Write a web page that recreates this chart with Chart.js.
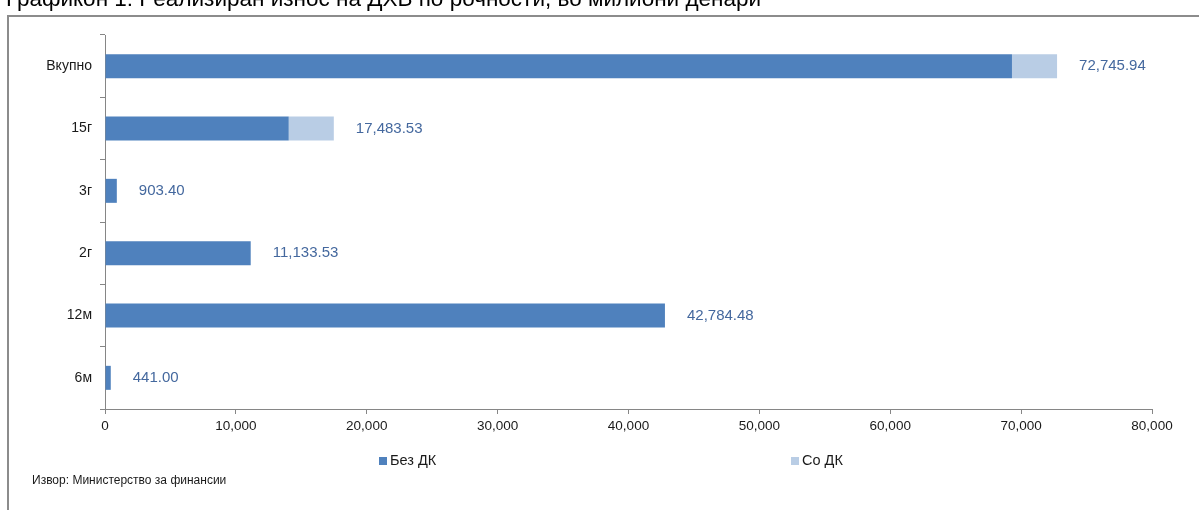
<!DOCTYPE html>
<html>
<head>
<meta charset="utf-8">
<script src="https://cdn.jsdelivr.net/npm/chart.js@4.4.1/dist/chart.umd.min.js"></script>
<style>
  html, body { margin: 0; padding: 0; background: #fff; }
  canvas { display: block; }
</style>
</head>
<body>
<canvas id="rocnost" width="1199" height="510"></canvas>
<script>
// Рочности (од горе надолу) и износи во милиони денари
const rocnosti = ['Вкупно', '15г', '3г', '2г', '12м', '6м'];
const bezDK = [69300.00, 14037.59, 903.40, 11133.53, 42784.48, 441.00];
const soDK = [3445.94, 3445.94, 0, 0, 0, 0];
const xTicks = [0, 10000, 20000, 30000, 40000, 50000, 60000, 70000, 80000];

const naslov = 'Графикон 1: Реализиран износ на ДХВ по рочности, во милиони денари';
const izvor = 'Извор: Министерство за финансии';

const bojaBez = '#4f81bd';
const bojaSo = '#b9cde5';
const bojaOska = '#868686';
const font = "'Liberation Sans', Arial, sans-serif";

function formatBroj(v, dec) {
  return v.toLocaleString('en-US', { minimumFractionDigits: dec, maximumFractionDigits: dec });
}

//------------------------- Рамка, наслов, легенда и извор -------------------------
const ramkaPlugin = {
  id: 'ramka',
  afterDraw(chart) {
    const ctx = chart.ctx;
    ctx.save();
    ctx.strokeStyle = '#8c8c8c';
    ctx.lineWidth = 2;
    ctx.beginPath();
    ctx.moveTo(8, 510);
    ctx.lineTo(8, 16);
    ctx.lineTo(1199, 16);
    ctx.stroke();

    ctx.fillStyle = '#000';
    ctx.font = '22.5px ' + font;
    ctx.textBaseline = 'alphabetic';
    ctx.textAlign = 'left';
    ctx.fillText(naslov, 6, 6);

    // легенда
    ctx.font = '14.5px ' + font;
    ctx.textBaseline = 'middle';
    ctx.fillStyle = bojaBez;
    ctx.fillRect(379, 457, 8, 8);
    ctx.fillStyle = '#1a1a1a';
    ctx.fillText('Без ДК', 390, 461);
    ctx.fillStyle = bojaSo;
    ctx.fillRect(791, 457, 8, 8);
    ctx.fillStyle = '#1a1a1a';
    ctx.fillText('Со ДК', 802, 461);

    ctx.font = '12px ' + font;
    ctx.fillText(izvor, 32, 481);
    ctx.restore();
  }
};

//------------------------- Вкупни износи до крајот на столбовите -------------------------
const vrednostiPlugin = {
  id: 'vrednosti',
  afterDatasetsDraw(chart) {
    const ctx = chart.ctx;
    const xs = chart.scales.x;
    const ys = chart.scales.y;
    ctx.save();
    ctx.font = '15px ' + font;
    ctx.fillStyle = '#44689e';
    ctx.textAlign = 'left';
    ctx.textBaseline = 'middle';
    rocnosti.forEach((r, i) => {
      const vkupno = bezDK[i] + soDK[i];
      const x = xs.getPixelForValue(vkupno) + 22;
      const y = ys.getPixelForValue(i);
      ctx.fillText(formatBroj(vkupno, 2), x, y);
    });
    ctx.restore();
  }
};

new Chart(document.getElementById('rocnost'), {
  type: 'bar',
  data: {
    labels: rocnosti,
    datasets: [
      { label: 'Без ДК', data: bezDK, backgroundColor: bojaBez },
      { label: 'Со ДК', data: soDK, backgroundColor: bojaSo }
    ]
  },
  options: {
    indexAxis: 'y',
    responsive: false,
    animation: false,
    devicePixelRatio: 1,
    datasets: {
      bar: { categoryPercentage: 1, barPercentage: 0.385 }
    },
    layout: { padding: { left: 0, right: 47, top: 35, bottom: 71 } },
    plugins: {
      legend: { display: false },
      tooltip: { enabled: false }
    },
    scales: {
      x: {
        stacked: true,
        min: 0,
        max: 80000,
        afterBuildTicks(scale) {
          scale.ticks = xTicks.map(v => ({ value: v }));
        },
        afterFit(scale) { scale.height = 30; },
        grid: { drawOnChartArea: false, drawTicks: true, tickLength: 5, color: bojaOska },
        border: { display: true, color: bojaOska, width: 1 },
        ticks: {
          color: '#1a1a1a',
          font: { family: font, size: 13.5 },
          padding: 4,
          maxRotation: 0,
          callback: v => formatBroj(v, 0)
        }
      },
      y: {
        stacked: true,
        afterFit(scale) { scale.width = 105; },
        grid: { offset: true, drawOnChartArea: false, drawTicks: true, tickLength: 5, color: bojaOska },
        border: { display: true, color: bojaOska, width: 1 },
        ticks: {
          color: '#1a1a1a',
          font: { family: font, size: 14 },
          padding: 8
        }
      }
    }
  },
  plugins: [ramkaPlugin, vrednostiPlugin]
});
</script>
</body>
</html>
